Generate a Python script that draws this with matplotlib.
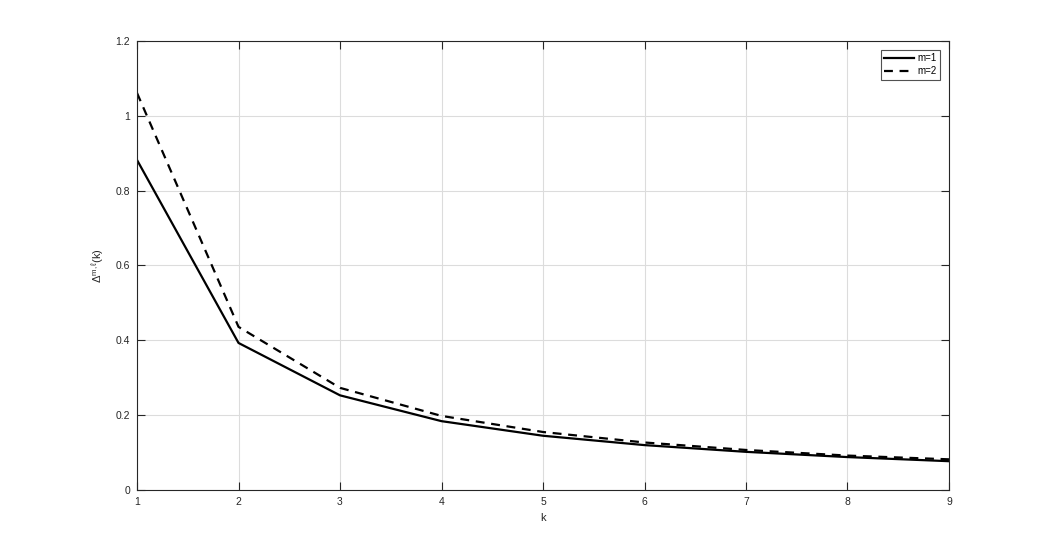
import matplotlib
matplotlib.use("Agg")
import matplotlib.pyplot as plt

k = [1, 2, 3, 4, 5, 6, 7, 8, 9]
m1 = [0.882, 0.393, 0.253, 0.184, 0.145, 0.120, 0.102, 0.088, 0.077]
m2 = [1.061, 0.436, 0.273, 0.198, 0.155, 0.127, 0.107, 0.092, 0.082]
xticks = [1, 2, 3, 4, 5, 6, 7, 8, 9]
yticks = [0, 0.2, 0.4, 0.6, 0.8, 1.0, 1.2]
yticklabels = ["0", "0.2", "0.4", "0.6", "0.8", "1", "1.2"]

plt.rcParams['font.family'] = ['Liberation Sans', 'DejaVu Sans']
plt.rcParams['mathtext.fontset'] = 'custom'
plt.rcParams['mathtext.rm'] = 'Liberation Sans'
plt.rcParams['mathtext.it'] = 'Liberation Sans'

fig = plt.figure(figsize=(10.5, 5.51), dpi=100)
ax = fig.add_axes([0.1305, 0.1107, 0.7733, 0.8149])

ax.plot(k, m1, color='black', linewidth=1.6, linestyle='-', label='m=1')
ax.plot(k, m2, color='black', linewidth=1.6, linestyle=(0, (4, 3)), label='m=2')

ax.set_xlim(1, 9)
ax.set_ylim(0, 1.2)
ax.set_xticks(xticks)
ax.set_yticks(yticks)
ax.set_yticklabels(yticklabels)
ax.grid(True, color='#dcdcdc', linewidth=0.8)
ax.set_axisbelow(True)
ax.tick_params(direction='in', top=True, right=True, labelsize=7.5, length=6, width=0.8, colors='#262626', pad=5)
for s in ax.spines.values():
    s.set_linewidth(0.8)
    s.set_color('#262626')

ax.set_xlabel('k', fontsize=8, color='#262626', labelpad=4)
ax.set_ylabel(r'$\Delta^{m,\ell}$(k)', fontsize=8, color='#262626', labelpad=6)

leg = ax.legend(loc='upper right', fontsize=7, frameon=True, fancybox=False,
                edgecolor='#262626', handlelength=3.0, borderpad=0.35, labelspacing=0.3,
                handletextpad=0.4, borderaxespad=0,
                bbox_to_anchor=(0.989, 0.980))
leg.get_frame().set_linewidth(0.8)

fig.savefig('out.png', dpi=100)
